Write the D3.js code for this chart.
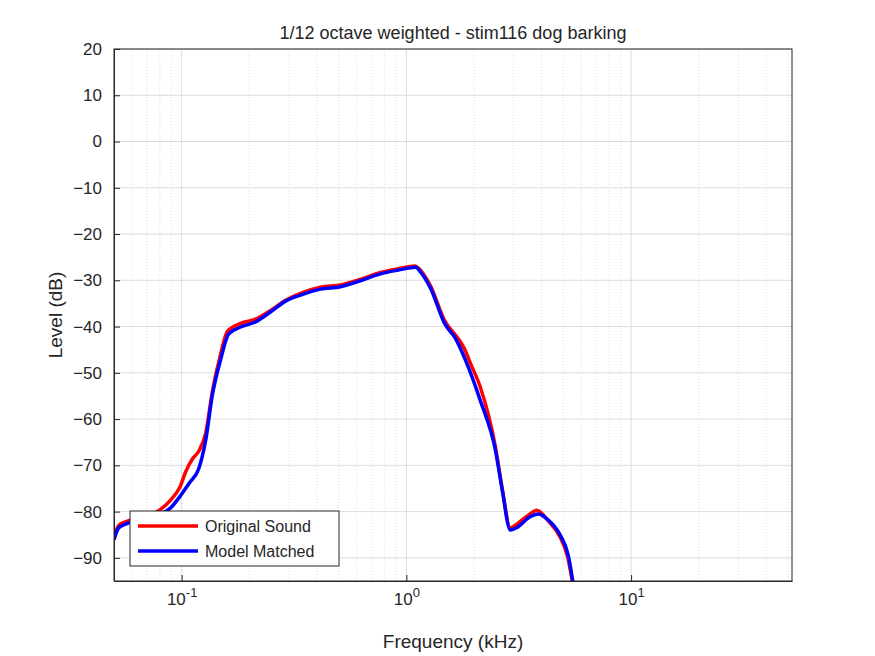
<!DOCTYPE html>
<html>
<head>
<meta charset="utf-8">
<script src="https://cdn.jsdelivr.net/npm/d3@7"></script>
<style>
  body { margin: 0; background: #fff; }
  text { font-family: Arial, "Liberation Sans", sans-serif; fill: #262626; }
</style>
</head>
<body>
<div id="chart"></div>
<script>
// frequency in kHz, level in dB
const freqModel = [0.05, 0.0525, 0.0563, 0.066, 0.0806, 0.0893, 0.0987, 0.109, 0.119, 0.128, 0.137, 0.149, 0.162, 0.183, 0.213, 0.249, 0.29, 0.338, 0.415, 0.509, 0.624, 0.766, 0.921, 1.1, 1.16, 1.28, 1.49, 1.65, 1.83, 2.13, 2.49, 2.67, 2.9, 3.14, 3.55, 3.86, 4.28, 4.83, 5.25, 5.52];
const levelModel = [-86.1, -83.5, -82.7, -81.8, -80.5, -79.2, -76.6, -73.6, -70.8, -64.5, -54.8, -47.2, -41.6, -40.1, -39.0, -36.8, -34.5, -33.2, -31.9, -31.4, -30.1, -28.6, -27.8, -27.2, -28.3, -31.7, -39.6, -42.5, -47.2, -55.9, -66.7, -75.3, -84.0, -83.3, -81.1, -80.5, -81.8, -85.0, -89.4, -95.5];
const freqOrig = [0.05, 0.0525, 0.0563, 0.066, 0.0806, 0.0893, 0.0987, 0.104, 0.112, 0.119, 0.128, 0.137, 0.149, 0.16, 0.183, 0.213, 0.249, 0.29, 0.338, 0.415, 0.509, 0.624, 0.766, 0.921, 1.09, 1.16, 1.28, 1.49, 1.65, 1.8, 1.95, 2.13, 2.49, 2.67, 2.9, 3.14, 3.55, 3.8, 4.28, 4.83, 5.2, 5.5];
const levelOrig = [-85.0, -83.0, -82.2, -81.4, -79.5, -77.5, -74.5, -71.5, -68.5, -67.0, -63.0, -54.0, -46.0, -41.0, -39.3, -38.4, -36.5, -34.3, -32.8, -31.5, -31.0, -29.8, -28.3, -27.5, -26.9, -27.9, -31.2, -39.0, -41.8, -44.5, -48.5, -53.0, -66.0, -75.0, -83.5, -82.5, -80.5, -79.7, -82.0, -85.5, -89.5, -95.5];
const yTicks = [20, 10, 0, -10, -20, -30, -40, -50, -60, -70, -80, -90];
const xMajor = [0.1, 1, 10];

const W = 875, H = 656;
const m = { left: 114, right: 83, top: 49, bottom: 75 };
const svg = d3.select('#chart').append('svg').attr('width', W).attr('height', H);

const x = d3.scaleLog().domain([0.05, 52]).range([m.left, W - m.right]);
const y = d3.scaleLinear().domain([-95, 20]).range([H - m.bottom, m.top]);

svg.append('defs').append('clipPath').attr('id', 'clip')
  .append('rect').attr('x', m.left).attr('y', m.top)
  .attr('width', W - m.left - m.right).attr('height', H - m.top - m.bottom);

// minor grid
const minors = [];
for (let d = 0.01; d < 100; d *= 10) for (let k = 2; k <= 9; k++) {
  const v = d * k;
  if (v > 0.05 && v < 52) minors.push(v);
}
svg.append('g').selectAll('line').data(minors).enter().append('line')
  .attr('x1', d => x(d)).attr('x2', d => x(d))
  .attr('y1', m.top).attr('y2', H - m.bottom)
  .attr('stroke', '#d6d6d6').attr('stroke-width', 0.8).attr('stroke-dasharray', '1,2');
// major grid
svg.append('g').selectAll('line').data(xMajor).enter().append('line')
  .attr('x1', d => x(d)).attr('x2', d => x(d))
  .attr('y1', m.top).attr('y2', H - m.bottom)
  .attr('stroke', '#dcdcdc');
svg.append('g').selectAll('line').data(yTicks).enter().append('line')
  .attr('x1', m.left).attr('x2', W - m.right)
  .attr('y1', d => y(d)).attr('y2', d => y(d))
  .attr('stroke', '#dcdcdc');

// lines
const line = d3.line().x(d => x(d[0])).y(d => y(d[1])).curve(d3.curveMonotoneX);
const g = svg.append('g').attr('clip-path', 'url(#clip)');
g.append('path').datum(d3.zip(freqOrig, levelOrig)).attr('d', line)
  .attr('fill', 'none').attr('stroke', '#ff0000').attr('stroke-width', 3.5);
g.append('path').datum(d3.zip(freqModel, levelModel)).attr('d', line)
  .attr('fill', 'none').attr('stroke', '#0000ff').attr('stroke-width', 3.5);

// axes
const ax = svg.append('g').attr('transform', `translate(0,${H - m.bottom})`)
  .call(d3.axisBottom(x).tickValues(xMajor).tickSizeInner(-6).tickSizeOuter(0).tickFormat(() => ''));
ax.selectAll('.tick').append('text').attr('y', 24).attr('text-anchor', 'middle')
  .style('font-size', '17px')
  .each(function (d) {
    const e = Math.round(Math.log10(d));
    const t = d3.select(this);
    t.append('tspan').text('10');
    t.append('tspan').attr('dy', -8).style('font-size', '13px').text(e);
  });
const ay = svg.append('g').attr('transform', `translate(${m.left},0)`)
  .call(d3.axisLeft(y).tickValues(yTicks).tickSizeInner(-6).tickSizeOuter(0).tickPadding(12));
ay.selectAll('text').style('font-size', '17px').attr('fill', '#262626');
[ax, ay].forEach(a => { a.selectAll('line').attr('stroke', '#262626'); a.select('.domain').attr('stroke', '#262626'); });
svg.append('rect').attr('x', m.left).attr('y', m.top)
  .attr('width', W - m.left - m.right).attr('height', H - m.top - m.bottom)
  .attr('fill', 'none').attr('stroke', '#262626');

// labels
svg.append('text').attr('x', (m.left + W - m.right) / 2).attr('y', 39).attr('text-anchor', 'middle')
  .style('font-size', '18px').text('1/12 octave weighted - stim116 dog barking');
svg.append('text').attr('x', (m.left + W - m.right) / 2).attr('y', 648).attr('text-anchor', 'middle')
  .style('font-size', '19px').text('Frequency (kHz)');
svg.append('text').attr('transform', `translate(62,${(m.top + H - m.bottom) / 2}) rotate(-90)`)
  .attr('text-anchor', 'middle').style('font-size', '19px').text('Level (dB)');

// legend
const lg = svg.append('g').attr('transform', 'translate(130,511)');
lg.append('rect').attr('width', 209).attr('height', 55).attr('fill', '#fff').attr('stroke', '#262626');
[['Original Sound', '#ff0000'], ['Model Matched', '#0000ff']].forEach((s, i) => {
  const yy = 15 + i * 25;
  lg.append('line').attr('x1', 8).attr('x2', 68).attr('y1', yy).attr('y2', yy)
    .attr('stroke', s[1]).attr('stroke-width', 3.5);
  lg.append('text').attr('x', 75).attr('y', yy + 6).style('font-size', '16px').text(s[0]);
});
</script>
</body>
</html>
